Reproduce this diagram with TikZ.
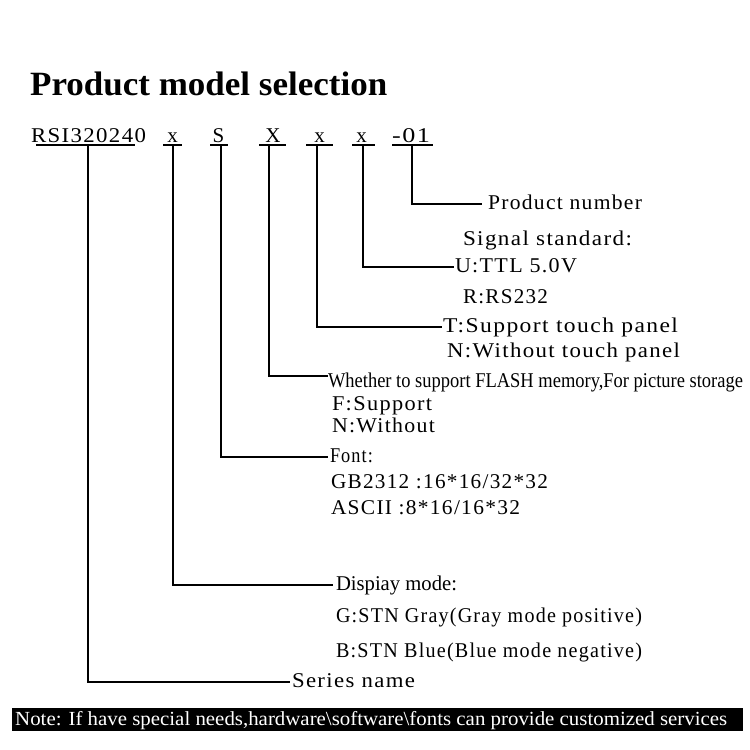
\documentclass[tikz,border=0pt]{standalone}
\usepackage{fontspec}
\usepackage{graphicx}
\setmainfont{Liberation Serif}
\newfontfamily\spfont[LetterSpace=6]{Liberation Serif}
\newfontfamily\plfont{Liberation Serif}
\newcommand{\fitw}[2]{\resizebox{#1}{\height}{#2}}
\begin{document}
\begin{tikzpicture}[x=1pt,y=-1pt,
  conn/.style={line width=2pt},
  uline/.style={line width=2pt},
  lbl/.style={anchor=west, inner ysep=0pt, inner xsep=1pt, outer sep=0pt,
    text height=14pt, text depth=4pt, font=\fontsize{21}{24}\spfont},
  model/.style={anchor=base, inner sep=0pt, outer sep=0pt, font=\fontsize{21}{24}\plfont},
  notebar/.style={fill=black, draw=none, anchor=north west, inner sep=0pt,
    minimum width=731pt, minimum height=23pt}]
\useasboundingbox (0,0) rectangle (750,750);

% title
\node[anchor=base west, inner sep=0pt, font=\fontsize{34}{40}\plfont\bfseries] (title) at (30,95) {\fitw{357pt}{Product model selection}};

% model code
\node[model, anchor=base west] (m0) at (31,142) {\spfont\fitw{115pt}{RSI320240}};
\node[model] (m1) at (172.5,142) {x};
\node[model] (m2) at (218.5,142) {S};
\node[model] (m3) at (273,142) {X};
\node[model] (m4) at (319.5,142) {x};
\node[model] (m5) at (361.5,142) {x};
\node[model] (m6) at (411,142) {\spfont\fitw{38pt}{-01}};

\draw[uline] (36,144.5) -- (135,144.5);
\draw[uline] (163,144.5) -- (182,144.5);
\draw[uline] (210,144.5) -- (228,144.5);
\draw[uline] (259,144.5) -- (286,144.5);
\draw[uline] (306,144.5) -- (333,144.5);
\draw[uline] (352,144.5) -- (375,144.5);
\draw[uline] (392,144.5) -- (433,144.5);

\coordinate (s0) at (88,144);
\coordinate (s1) at (173,144);
\coordinate (s2) at (221,144);
\coordinate (s3) at (269,144);
\coordinate (s4) at (317,144);
\coordinate (s5) at (363,144);
\coordinate (s6) at (412,144);

% labels
\node[lbl, inner xsep=6pt] (pn) at (482,204) {\fitw{154pt}{Product number}};
\node[lbl] (ss) at (462,240) {\fitw{169pt}{Signal standard:}};
\node[lbl] (u) at (454,267) {\fitw{122pt}{U:TTL 5.0V}};
\node[lbl] (r) at (462,298) {\fitw{85pt}{R:RS232}};
\node[lbl] (t) at (442,327) {\fitw{235pt}{T:Support touch panel}};
\node[lbl] (n) at (446,352) {\fitw{233pt}{N:Without touch panel}};
\node[lbl, text height=26pt, inner xsep=0pt, font=\fontsize{21}{24}\plfont] (w) at (328,376) {\fitw{415pt}{Whether to support FLASH memory,For picture storage}};
\node[lbl] (f) at (331,405) {\fitw{100pt}{F:Support}};
\node[lbl] (nw) at (331,427) {\fitw{103pt}{N:Without}};
\node[lbl, inner xsep=2pt] (fo) at (328,457) {\fitw{43pt}{Font:}};
\node[lbl] (gb) at (330,483) {\fitw{217pt}{GB2312 :16*16/32*32}};
\node[lbl] (as) at (330,509) {\fitw{189pt}{ASCII :8*16/16*32}};
\node[lbl, inner xsep=3pt, font=\fontsize{21}{24}\plfont] (d) at (333,585) {\fitw{121pt}{Dispiay mode:}};
\node[lbl] (g) at (335,617) {\fitw{306pt}{G:STN Gray(Gray mode positive)}};
\node[lbl] (b) at (335,652) {\fitw{306pt}{B:STN Blue(Blue mode negative)}};
\node[lbl, inner xsep=2pt] (sn) at (290,682) {\fitw{123pt}{Series name}};

% connectors
\draw[conn] (s6) |- (pn.west);
\draw[conn] (s5) |- (u.west);
\draw[conn] (s4) |- (t.west);
\draw[conn] (s3) |- (w.west);
\draw[conn] (s2) |- (fo.west);
\draw[conn] (s1) |- (d.west);
\draw[conn] (s0) |- (sn.west);

% note bar
\node[notebar] (bar) at (12,708) {};
\node[anchor=base west, inner sep=0pt, text=white, font=\fontsize{20}{22}\plfont] (note) at (15,725) {\fitw{712pt}{Note: If have special needs,hardware\textbackslash software\textbackslash fonts can provide customized services}};
\end{tikzpicture}
\end{document}
